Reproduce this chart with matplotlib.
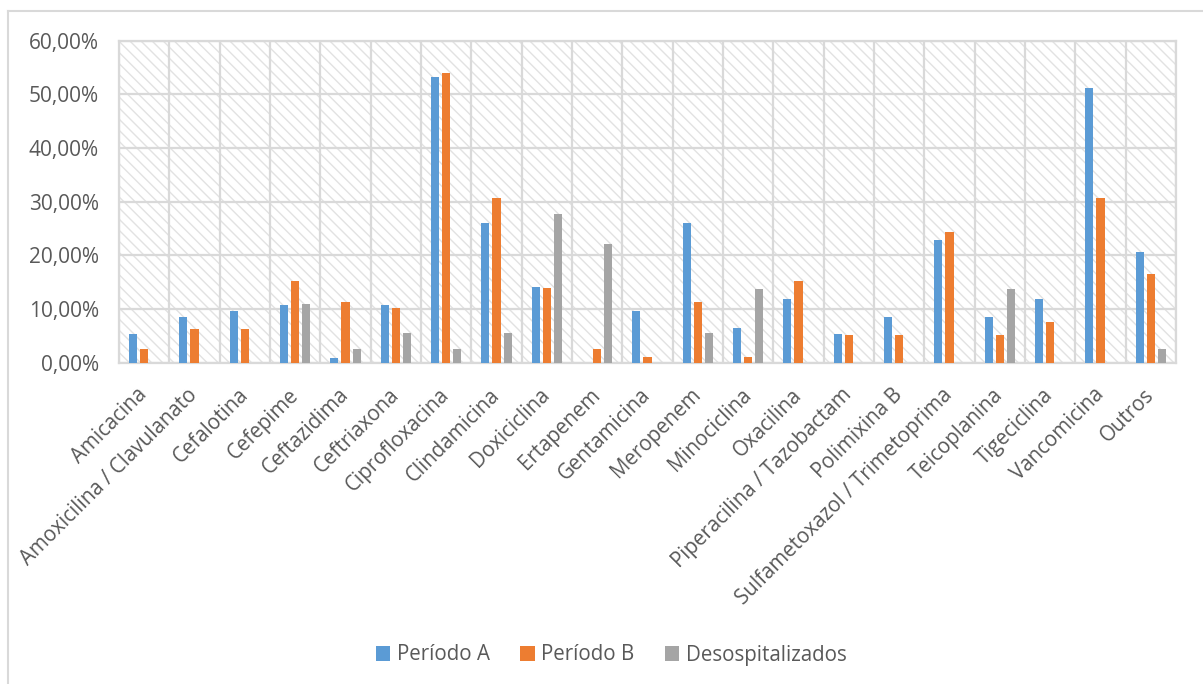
import matplotlib
matplotlib.use("Agg")
import matplotlib.pyplot as plt
import numpy as np
from matplotlib.patches import Rectangle
from matplotlib.lines import Line2D
from matplotlib.ticker import FuncFormatter, FixedLocator

categories = ["Amicacina", "Amoxicilina / Clavulanato", "Cefalotina", "Cefepime",
              "Ceftazidima", "Ceftriaxona", "Ciprofloxacina", "Clindamicina",
              "Doxiciclina", "Ertapenem", "Gentamicina", "Meropenem", "Minociclina",
              "Oxacilina", "Piperacilina / Tazobactam", "Polimixina B",
              "Sulfametoxazol / Trimetoprima", "Teicoplanina", "Tigeciclina",
              "Vancomicina", "Outros"]

periodo_a = [5.4, 8.6, 9.7, 10.8, 0.9, 10.8, 53.2, 26.0, 14.1, 0.0, 9.7, 26.0, 6.4,
             11.9, 5.4, 8.6, 22.8, 8.6, 11.9, 51.2, 20.6]
periodo_b = [2.5, 6.3, 6.3, 15.3, 11.4, 10.2, 53.9, 30.7, 14.0, 2.5, 1.1, 11.4, 1.1,
             15.3, 5.1, 5.1, 24.4, 5.1, 7.6, 30.7, 16.6]
desospitalizados = [0.0, 0.0, 0.0, 11.0, 2.6, 5.5, 2.6, 5.5, 27.7, 22.1, 0.0, 5.5, 13.8,
                    0.0, 0.0, 0.0, 0.0, 13.8, 0.0, 0.0, 2.6]
series_names = ["Período A", "Período B", "Desospitalizados"]
colors = ["#5B9BD5", "#ED7D31", "#A5A5A5"]
y_ticks = [0, 10, 20, 30, 40, 50, 60]

plt.rcParams['font.family'] = ['Open Sans', 'DejaVu Sans']
plt.rcParams['hatch.linewidth'] = 1.0
text_color = "#595959"
grid_color = "#D9D9D9"

fig = plt.figure(figsize=(12.03, 6.84), dpi=100)
ax = fig.add_axes([119/1203, 1 - 362.7/684, (1176-119)/1203, (362.7-40.7)/684])

n = len(categories)
x = np.arange(n)
pitch = 0.219
width = 0.159
for i, (vals, c) in enumerate(zip([periodo_a, periodo_b, desospitalizados], colors)):
    ax.bar(x + (i - 1) * pitch, vals, width=width, color=c, zorder=3, linewidth=0)

ax.set_xlim(-0.5, n - 0.5)
ax.set_ylim(0, 60)

# hatched background
bg = Rectangle((0, 0), 1, 1, transform=ax.transAxes, facecolor="white",
               edgecolor="#E2E2E2", hatch="\\\\\\", linewidth=0, zorder=0)
ax.add_patch(bg)

ax.yaxis.set_major_locator(FixedLocator(y_ticks))
ax.yaxis.set_major_formatter(FuncFormatter(lambda v, p: f"{v:.2f}".replace(".", ",") + "%"))
ax.set_xticks(x)
ax.set_xticklabels(categories, rotation=45, ha="right", va="center",
                   rotation_mode="anchor", color=text_color, fontsize=14.8)
ax.xaxis.set_minor_locator(FixedLocator(np.arange(-0.5, n, 1.0)))
ax.tick_params(axis="x", which="both", length=0, pad=21)
ax.tick_params(axis="y", length=0, pad=14.5, labelcolor=text_color, labelsize=15)

ax.grid(axis="y", which="major", color=grid_color, linewidth=1.6, zorder=1)
ax.grid(axis="x", which="minor", color=grid_color, linewidth=1.6, zorder=1)
ax.set_axisbelow(True)
for s in ax.spines.values():
    s.set_color(grid_color)
    s.set_linewidth(1.6)

# outer chart border
fig.add_artist(Line2D([8/1203, 8/1203], [-0.1, 1 - 11/684], transform=fig.transFigure,
                      color=grid_color, linewidth=1.5))
fig.add_artist(Line2D([8/1203, 1.1], [1 - 11/684, 1 - 11/684], transform=fig.transFigure,
                      color=grid_color, linewidth=1.5))

handles = [Rectangle((0, 0), 1, 1, facecolor=c, linewidth=0) for c in colors]
leg = fig.legend(handles, series_names, loc="center", bbox_to_anchor=(0.508, 1 - 655/684),
                 ncol=3, frameon=False, fontsize=14.8, handlelength=0.7, handleheight=0.7,
                 handletextpad=0.3, columnspacing=1.5)
for t in leg.get_texts():
    t.set_color(text_color)

fig.savefig("out.png", dpi=100)
